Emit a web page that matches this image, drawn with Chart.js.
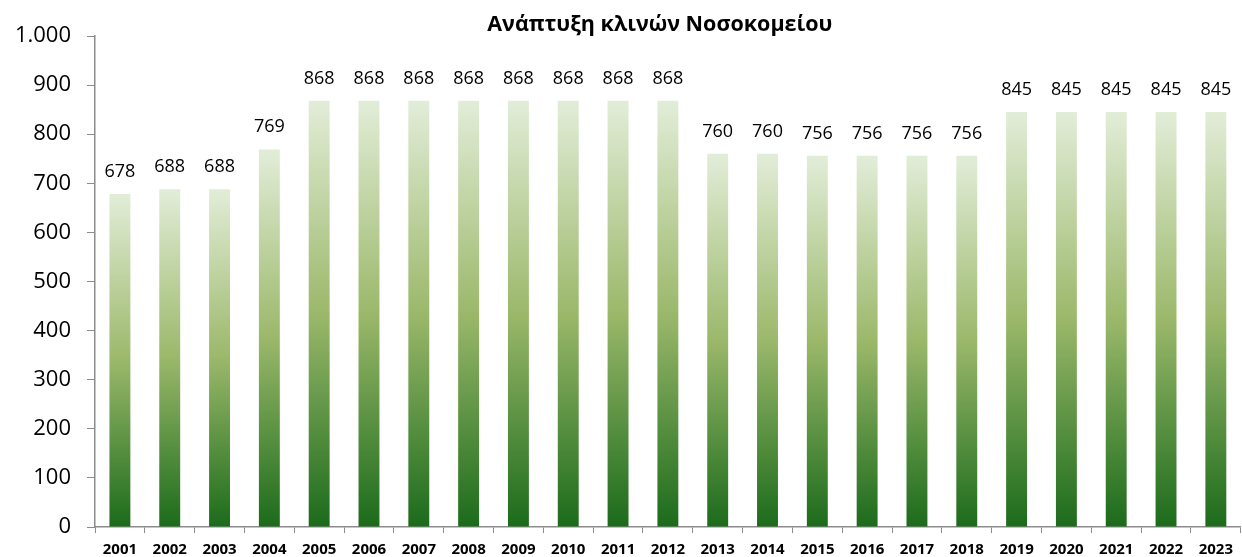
<!DOCTYPE html>
<html>
<head>
<meta charset="utf-8">
<script src="https://cdn.jsdelivr.net/npm/chart.js@4/dist/chart.umd.min.js"></script>
<style>
  html, body { margin: 0; padding: 0; background: #fff; }
  #wrap { width: 1242px; height: 557px; position: relative; }
</style>
</head>
<body>
<div id="wrap"><canvas id="bedsChart"></canvas></div>
<script>
const years = ['2001','2002','2003','2004','2005','2006','2007','2008','2009','2010','2011','2012',
               '2013','2014','2015','2016','2017','2018','2019','2020','2021','2022','2023'];
const beds = [678, 688, 688, 769, 868, 868, 868, 868, 868, 868, 868, 868,
              760, 760, 756, 756, 756, 756, 845, 845, 845, 845, 845];
const yTicks = [0, 100, 200, 300, 400, 500, 600, 700, 800, 900, 1000];
const chartTitle = 'Ανάπτυξη κλινών Νοσοκομείου';

const axisGrey = '#8c8c8c';
const fontFam = "'Open Sans', 'Noto Sans', sans-serif";

// each bar gets its own gradient, light at the top, dark green at the base
function barGradient(context) {
    const chart = context.chart;
    if (!chart.chartArea) return '#9bbb59';
    const y = chart.scales.y;
    const top = y.getPixelForValue(context.raw);
    const bottom = y.getPixelForValue(0);
    const g = chart.ctx.createLinearGradient(0, top, 0, bottom);
    g.addColorStop(0, '#e2edd8');
    g.addColorStop(0.5, '#9bb86a');
    g.addColorStop(1, '#1b6b1b');
    return g;
}

// numbers above bars + title over the plot area
const valueLabels = {
    id: 'valueLabels',
    afterDatasetsDraw(chart) {
        const ctx = chart.ctx;
        const meta = chart.getDatasetMeta(0);
        ctx.save();
        ctx.font = '18px ' + fontFam;
        ctx.fillStyle = '#000';
        ctx.textAlign = 'center';
        ctx.textBaseline = 'alphabetic';
        meta.data.forEach((bar, i) => {
            ctx.fillText(beds[i], bar.x, bar.y - 17);
        });

        const area = chart.chartArea;
        ctx.font = 'bold 21.5px ' + fontFam;
        ctx.textBaseline = 'middle';
        ctx.fillText(chartTitle, (area.left + area.right) / 2 - 8, 25);
        ctx.restore();
    }
};

const chart = new Chart(document.getElementById('bedsChart').getContext('2d'), {
    type: 'bar',
    data: {
        labels: years,
        datasets: [{
            data: beds,
            backgroundColor: barGradient,
            barPercentage: 0.42,
            categoryPercentage: 1
        }]
    },
    plugins: [valueLabels],
    options: {
        responsive: true,
        maintainAspectRatio: false,
        animation: false,
        layout: { padding: { top: 36, right: 0, bottom: 0, left: 0 } },
        plugins: {
            legend: { display: false },
            tooltip: { enabled: false },
            title: { display: false }
        },
        scales: {
            x: {
                afterFit: s => { s.height = 30; },
                grid: {
                    offset: true,
                    drawOnChartArea: false,
                    color: axisGrey,
                    tickLength: 6
                },
                border: { color: axisGrey, width: 1.5 },
                ticks: {
                    color: '#000',
                    font: { family: fontFam, size: 15, weight: 'bold', lineHeight: 1 },
                    maxRotation: 0,
                    autoSkip: false,
                    padding: 9
                }
            },
            y: {
                min: 0,
                max: 1000,
                afterBuildTicks: s => { s.ticks = yTicks.map(v => ({ value: v })); },
                afterFit: s => { s.width = 95; },
                grid: {
                    drawOnChartArea: false,
                    color: axisGrey,
                    tickLength: 8
                },
                border: { color: axisGrey, width: 1.5 },
                ticks: {
                    color: '#000',
                    font: { family: fontFam, size: 22 },
                    padding: 16,
                    callback: v => v.toLocaleString('de-DE')
                }
            }
        }
    }
});
</script>
</body>
</html>
